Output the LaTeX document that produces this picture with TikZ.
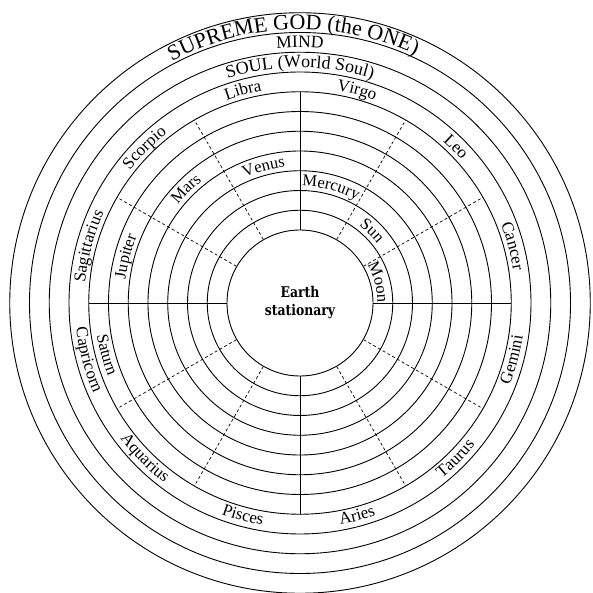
\documentclass[tikz,border=0pt]{standalone}
\usepackage{fontspec}
\setmainfont{Liberation Serif}
\newfontfamily\earthfont[FakeStretch=0.84]{DejaVu Serif}
\usetikzlibrary{decorations.text}
\newcommand\zodf{\fontsize{17}{20}\selectfont}
\newcommand\planf{\fontsize{16.5}{20}\selectfont}
\newcommand\godf{\fontsize{22}{25}\selectfont}
\newcommand\mindf{\fontsize{17.5}{20}\selectfont}
\newcommand\soulf{\fontsize{18}{21}\selectfont}
\newcommand\arcup[4]{\path[decorate,decoration={text along path,text align=center,text={|#3|#4}}] (#1+40:#2) arc[start angle=#1+40,end angle=#1-40,radius=#2];}
\newcommand\arcdown[4]{\path[decorate,decoration={text along path,text align=center,text={|#3|#4}}] (#1-40:#2) arc[start angle=#1-40,end angle=#1+40,radius=#2];}
\begin{document}
\begin{tikzpicture}[x=1pt,y=1pt,
  ring/.style={line width=0.9pt},
  divider/.style={line width=0.9pt},
  dashdiv/.style={line width=0.7pt,dash pattern=on 3pt off 2.5pt},
  earthtxt/.style={font={\earthfont\bfseries\fontsize{14.8}{17}\selectfont}}]
\useasboundingbox (-300,-290) rectangle (292,303);
\node[circle,draw,line width=0.9pt,minimum size=146pt,inner sep=0pt] (earth) at (0,0) {};
\foreach \k in {1,...,11} \draw[ring] (0,0) circle[radius={73+19.75*\k}];
\foreach \a in {0,90,180,270} {\coordinate (s\a) at (\a:211.25); \draw[divider] (earth.\a) -- (s\a);}
\foreach \a in {30,60,120,150,210,240,300,330} {\coordinate (d\a) at (\a:211.25); \draw[dashdiv] (earth.\a) -- (d\a);}
\node[earthtxt] (earthlbl) at (0,11) {Earth};
\node[earthtxt] (statlbl) at (0,-9) {stationary};
% planets
\arcup{15}{77.5}{\planf}{Moon}
\arcup{45}{97.25}{\planf}{Sun}
\arcup{75}{117}{\planf}{Mercury}
\arcup{105}{136.75}{\planf}{Venus}
\arcup{135}{156.5}{\planf}{Mars}
\arcup{165}{176.25}{\planf}{Jupiter}
\arcdown{195}{205.5}{\planf}{Saturn}
% zodiac
\arcup{15}{215.75}{\zodf}{Cancer}
\arcup{45}{215.75}{\zodf}{Leo}
\arcup{75}{215.75}{\zodf}{Virgo}
\arcup{105}{215.75}{\zodf}{Libra}
\arcup{135}{215.75}{\zodf}{Scorpio}
\arcup{165}{215.75}{\zodf}{Sagittarius}
\arcdown{195}{225.25}{\zodf}{Capricorn}
\arcdown{225}{225.25}{\zodf}{Aquarius}
\arcdown{255}{225.25}{\zodf}{Pisces}
\arcdown{285}{225.25}{\zodf}{Aries}
\arcdown{315}{225.25}{\zodf}{Taurus}
\arcdown{345}{225.25}{\zodf}{Gemini}
% outer spheres
\arcup{90}{235.5}{\soulf}{SOUL (World Soul)}
\arcup{90}{255.25}{\mindf}{MIND}
\arcup{91.5}{273.5}{\godf}{SUPREME GOD (the ONE)}
\end{tikzpicture}
\end{document}
